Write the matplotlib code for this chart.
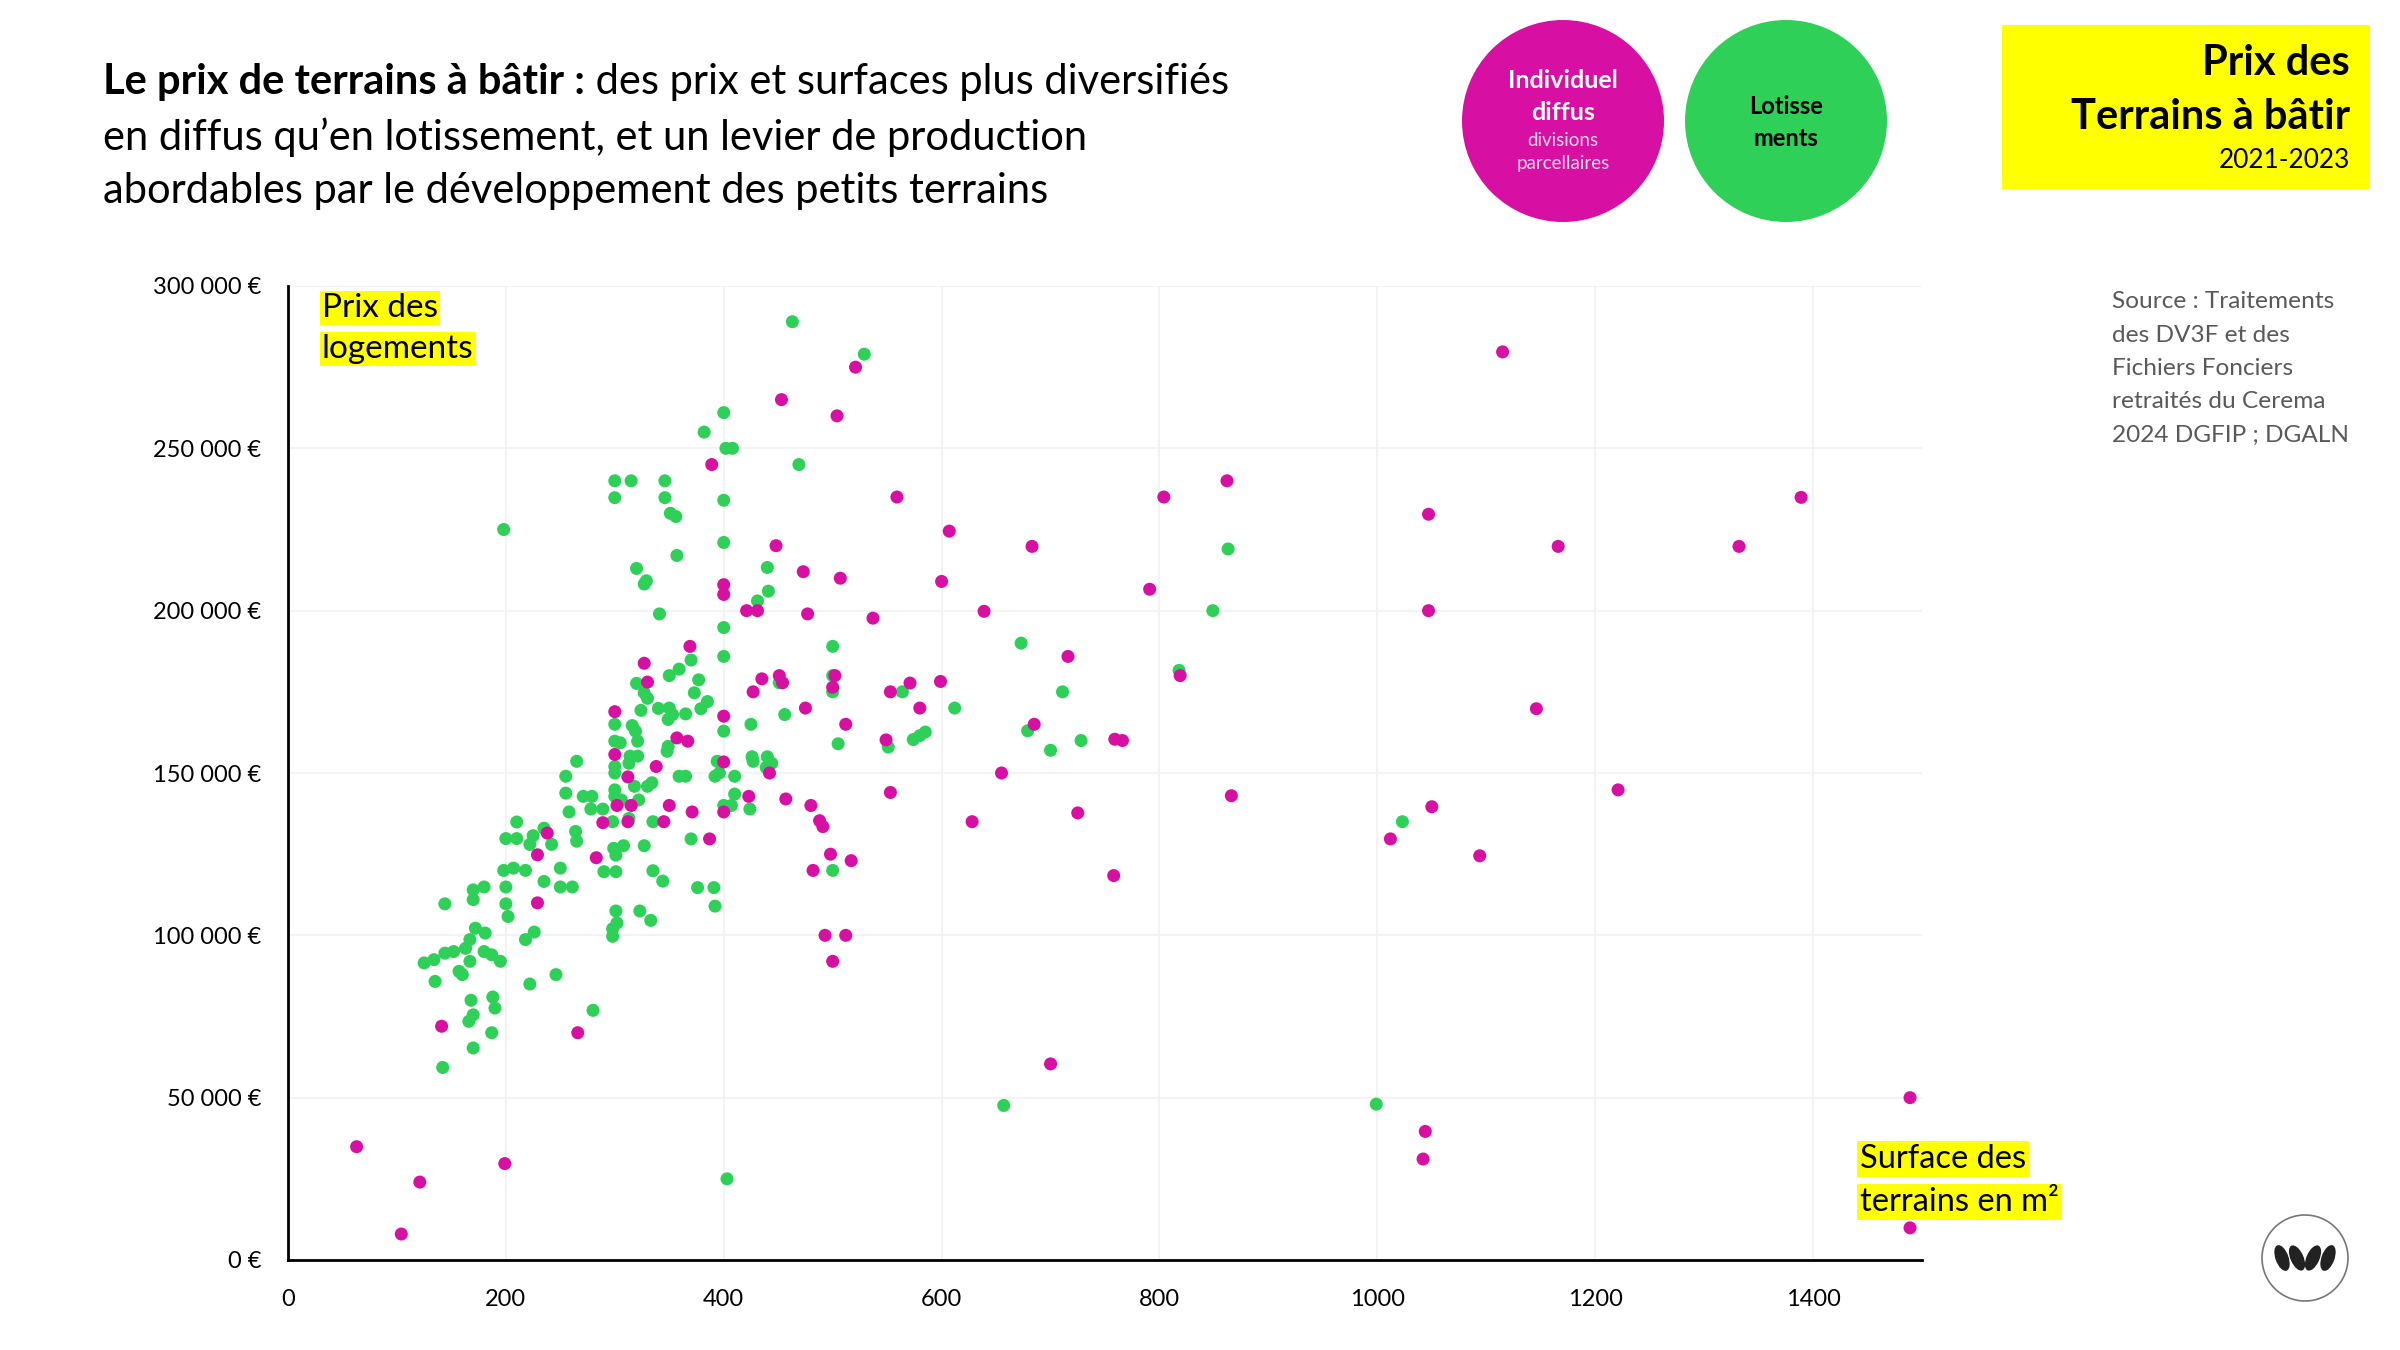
import matplotlib
matplotlib.use("Agg")
import matplotlib.pyplot as plt
from matplotlib.patches import Circle, Rectangle, Ellipse
from matplotlib.ticker import FuncFormatter

plt.rcParams['font.family'] = ['Lato', 'DejaVu Sans']

# ---------------- data ----------------
# Lotissements (green)
lot_x = [265, 255, 255, 258, 210, 200, 210, 225, 222, 235, 242, 264, 265, 198, 207, 218, 200, 200, 202,
         235, 250, 250, 261, 170, 180, 170, 144, 172, 181, 167, 163, 144, 152, 134, 125, 180, 187, 195,
         167, 157, 160, 135, 218, 226, 246, 222, 168, 188, 190, 170, 166, 187, 170, 142, 280, 198,
         341, 400, 400, 431, 370, 359, 350, 377, 320, 327, 330, 373, 385, 379, 324, 340, 350, 353, 349,
         365, 300, 316, 319, 321, 300, 305, 314, 321, 313, 300, 300, 349, 348, 318, 330, 334, 322, 300,
         300, 306, 279, 271, 278, 289, 298, 313, 335, 359, 365, 392, 396, 394, 410, 410, 400, 407, 424,
         400, 425, 451, 456, 426, 427, 440, 444, 439, 370, 327, 299, 301, 308, 290, 301, 335, 344, 376,
         391, 392, 301, 323, 333, 302, 298, 298,
         463, 400, 382, 402, 408, 469, 300, 315, 346, 300, 346, 400, 351, 356, 400, 357, 440, 320, 329,
         327, 441, 529,
         500, 500, 500, 505, 564, 612, 551, 574, 580, 585, 500,
         673, 657, 700, 711, 728, 849, 863, 818, 999, 1023, 403, 679]
lot_y = [153600, 149000, 143800, 138000, 134900, 129800, 129800, 130700, 128000, 133000, 128000, 132000,
         129000, 120000, 120700, 120000, 114900, 109700, 105800, 116600, 120700, 114900, 114900, 114000,
         114900, 111000, 109700, 102200, 100700, 98700, 96000, 94500, 95000, 92500, 91500, 95000, 94000,
         92000, 92000, 88900, 87900, 85800, 98700, 101000, 87900, 85000, 80000, 81000, 77600, 75500,
         73500, 70000, 65300, 59300, 76900, 225000,
         199000, 194800, 185900, 203000, 184800, 182000, 180000, 178700, 177600, 174700, 173000, 174700,
         172000, 169800, 169300, 169900, 170000, 168000, 166500, 168200, 165000, 164600, 162900, 159800,
         159800, 159300, 155200, 155200, 153000, 152000, 150000, 158200, 156700, 145900, 145900, 147000,
         141700, 144800, 142800, 141700, 142800, 142800, 138900, 138900, 135000, 136000, 135000, 149000,
         149000, 149000, 150000, 153600, 149000, 143500, 140000, 140000, 138900, 162900, 165000, 177800,
         168000, 155000, 153600, 155000, 153000, 151700, 129700, 127600, 126800, 124700, 127600, 119600,
         119600, 119900, 116700, 114700, 114700, 109000, 107500, 107500, 104600, 103800, 102000, 99700,
         289000, 261000, 255000, 250000, 250000, 245000, 240000, 240000, 240000, 234800, 234800, 234000,
         230000, 229000, 221000, 217000, 213300, 213000, 209200, 208200, 206000, 279000,
         189000, 180000, 175000, 159000, 175000, 170000, 158000, 160300, 161500, 162600, 120000,
         190000, 47600, 157000, 175000, 160000, 200000, 219000, 181600, 48000, 135000, 25000, 163000]

# Individuel diffus (magenta)
dif_x = [238, 229, 229, 141, 266,
         421, 431, 477, 369, 327, 330, 300, 300, 357, 367, 338, 312, 302, 315, 289, 312, 345, 350, 371,
         400, 400, 423, 400, 427, 435, 451, 454, 475, 442, 457, 480, 488, 491, 482, 387, 283,
         453, 389, 448, 473, 400, 400,
         521, 504, 559, 607, 507, 600, 537, 639,
         502, 500, 512, 553, 571, 599, 580, 549, 553, 628, 498, 517, 493, 512, 500,
         700, 758, 725, 655, 685, 759, 766, 716, 683, 791, 804, 862, 866, 1012, 1050, 1094, 1047, 1047,
         1115, 1146, 1166, 1221, 1332, 1389, 1044, 1042, 1489, 1489, 63, 104, 121, 199, 819]
dif_y = [131500, 124800, 110000, 72000, 70000,
         200000, 200000, 199000, 189000, 183800, 178000, 168900, 155700, 160800, 159800, 152000, 148800,
         140000, 140000, 134700, 135000, 135000, 140000, 138000, 153400, 138000, 142800, 167500, 175000,
         179000, 180000, 177800, 170000, 150000, 142000, 140000, 135300, 133500, 120000, 129700, 123900,
         265000, 245000, 220000, 212000, 208000, 205000,
         275000, 260000, 235000, 224500, 210000, 209000, 197700, 199800,
         180000, 176400, 165000, 175000, 177700, 178200, 170000, 160200, 144000, 135000, 125000, 123000,
         100000, 100000, 92000,
         60400, 118400, 137700, 150000, 165000, 160400, 160000, 185900, 219800, 206600, 235000, 240000,
         143000, 129700, 139600, 124500, 200000, 229700, 279700, 169800, 219800, 144800, 219800, 234900,
         39600, 31100, 50000, 9900, 34900, 8000, 24000, 29700, 180000]

x_ticks = [0, 200, 400, 600, 800, 1000, 1200, 1400]
y_ticks = [0, 50000, 100000, 150000, 200000, 250000, 300000]

source_lines = ["Source : Traitements", "des DV3F et des", "Fichiers Fonciers",
                "retraités du Cerema", "2024 DGFIP ; DGALN"]

MAGENTA = "#D80FA3"
GREEN = "#2ED058"

W, H = 2400, 1350
fig = plt.figure(figsize=(24, 13.5), dpi=100)
fig.patch.set_facecolor("white")

# ---------------- main scatter ----------------
left, right, bottom, top = 288, 1922, 1260, 286
ax = fig.add_axes([left / W, 1 - bottom / H, (right - left) / W, (bottom - top) / H])
ax.set_xlim(0, 1500)
ax.set_ylim(0, 300000)
ax.set_xticks(x_ticks)
ax.set_yticks(y_ticks)
ax.grid(True, color="#F1F1F1", linewidth=1.2, zorder=0)
ax.set_axisbelow(True)
for s in ["top", "right"]:
    ax.spines[s].set_visible(False)
for s in ["left", "bottom"]:
    ax.spines[s].set_color("black")
    ax.spines[s].set_linewidth(2)
ax.tick_params(axis="both", length=0, labelsize=17, colors="black")
ax.tick_params(axis="x", pad=21)
ax.tick_params(axis="y", pad=19)


def euro(v, pos):
    v = int(round(v))
    s = f"{v:,}".replace(",", " ")
    return f"{s} €"


ax.yaxis.set_major_formatter(FuncFormatter(euro))

ax.scatter(lot_x, lot_y, s=88, color=GREEN, edgecolors="none", zorder=3, clip_on=False)
ax.scatter(dif_x, dif_y, s=88, color=MAGENTA, edgecolors="none", zorder=4, clip_on=False)

# ---------------- overlay in pixel coords ----------------
ov = fig.add_axes([0, 0, 1, 1], zorder=10)
ov.set_xlim(0, W)
ov.set_ylim(H, 0)
ov.axis("off")
ov.patch.set_alpha(0)

# Title
title_fs = 30
t1 = ov.text(103, 82, "Le prix de terrains à bâtir :", fontsize=title_fs, fontweight="bold",
             ha="left", va="center", color="black")
fig.canvas.draw()
r = fig.canvas.get_renderer()
bb = t1.get_window_extent(r)
ov.text(bb.x1, 82, " des prix et surfaces plus diversifiés", fontsize=title_fs,
        ha="left", va="center", color="black")
ov.text(103, 137, "en diffus qu’en lotissement, et un levier de production", fontsize=title_fs,
        ha="left", va="center", color="black")
ov.text(103, 191, "abordables par le développement des petits terrains", fontsize=title_fs,
        ha="left", va="center", color="black")

# Legend circles
ov.add_patch(Circle((1563, 121), 101, facecolor=MAGENTA, edgecolor="none"))
ov.add_patch(Circle((1786, 121), 101, facecolor=GREEN, edgecolor="none"))
ov.text(1563, 81, "Individuel", fontsize=18, fontweight="bold", color="white", ha="center", va="center")
ov.text(1563, 112, "diffus", fontsize=18, fontweight="bold", color="white", ha="center", va="center")
ov.text(1563, 140, "divisions", fontsize=13.5, color="#F6D8EE", ha="center", va="center")
ov.text(1563, 164, "parcellaires", fontsize=13.5, color="#F6D8EE", ha="center", va="center")
ov.text(1786, 106, "Lotisse", fontsize=17, fontweight="bold", color="black", ha="center", va="center")
ov.text(1786, 138, "ments", fontsize=17, fontweight="bold", color="black", ha="center", va="center")

# Yellow title box
ov.add_patch(Rectangle((2002, 25), 368, 164, facecolor="#FFFF00", edgecolor="none"))
ov.text(2350, 63, "Prix des", fontsize=30, fontweight="bold", ha="right", va="center")
ov.text(2350, 117, "Terrains à bâtir", fontsize=30, fontweight="bold", ha="right", va="center")
ov.text(2350, 161, "2021-2023", fontsize=18.8, ha="right", va="center")

# Source
for i, line in enumerate(source_lines):
    ov.text(2112, 302 + i * 33.3, line, fontsize=17.6, color="#595959", ha="left", va="center")

# Axis labels with highlight
hl = dict(facecolor="#FFFF00", edgecolor="none", pad=1.8)
ov.text(322, 308, "Prix des", fontsize=24, ha="left", va="center", bbox=hl)
ov.text(322, 349, "logements", fontsize=24, ha="left", va="center", bbox=hl)
ov.text(1860, 1159, "Surface des", fontsize=23.5, ha="left", va="center", bbox=hl)
ov.text(1860, 1202, "terrains en m²", fontsize=23.5, ha="left", va="center", bbox=hl)

# Logo
cx, cy = 2305, 1258
ov.add_patch(Circle((cx, cy), 43, facecolor="white", edgecolor="#777777", linewidth=1.2))
for dx, ang in [(-23, -20), (-8, -24), (8, 24), (23, 20)]:
    ov.add_patch(Ellipse((cx + dx, cy), 13, 27, angle=ang, facecolor="#222222", edgecolor="none"))

fig.savefig("out.png", dpi=100, facecolor="white")
